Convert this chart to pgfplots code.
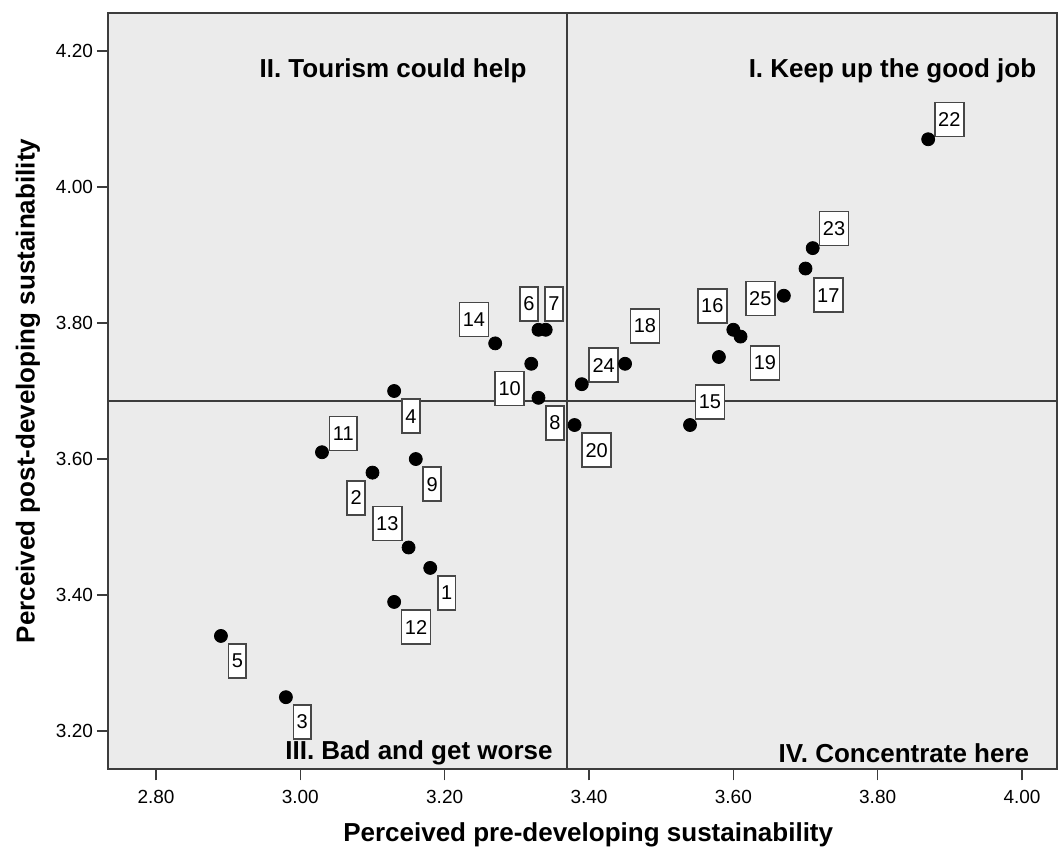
\documentclass[border=0pt]{standalone}
\usepackage{fontspec}
\setmainfont{Liberation Sans}
\usepackage{pgfplots}
\pgfplotsset{compat=1.18}
\definecolor{bg}{RGB}{235,235,235}
\definecolor{frm}{RGB}{60,60,60}
\tikzset{lbl/.style={draw=black!72, line width=0.8pt, fill=white, minimum height=17pt, inner xsep=1.7pt, inner ysep=0pt, font=\fontsize{10}{11}\selectfont},
 quad/.style={font=\fontsize{13}{15}\selectfont\bfseries}}
\begin{document}
\begin{tikzpicture}
\path[use as bounding box] (-54pt,-41.35pt) rectangle (475.5pt,384.65pt);
\begin{axis}[
 scale only axis, width=474.5pt, height=378.3pt,
 xmin=2.7335, xmax=4.0485, ymin=3.144, ymax=4.256,
 axis background/.style={fill=bg},
 axis line style={frm, line width=1.1pt},
 xtick={2.8,3.0,3.2,3.4,3.6,3.8,4.0},
 ytick={3.2,3.4,3.6,3.8,4.0,4.2},
 tick align=outside, tick pos=left, major tick length=5.5pt,
 tick style={frm, line width=0.8pt},
 /pgf/number format/assume math mode=true,
 xticklabel style={/pgf/number format/fixed, /pgf/number format/fixed zerofill, /pgf/number format/precision=2, font=\fontsize{9.5}{10}\selectfont, yshift=-1.5pt},
 yticklabel style={/pgf/number format/fixed, /pgf/number format/fixed zerofill, /pgf/number format/precision=2, font=\fontsize{9.5}{10}\selectfont, xshift=1.5pt},
 xlabel={Perceived pre-developing sustainability},
 ylabel={Perceived post-developing sustainability},
 xlabel style={font=\fontsize{13}{15}\selectfont\bfseries, at={(axis description cs:0.506,-0.0868)}, anchor=center},
 ylabel style={font=\fontsize{13}{15}\selectfont\bfseries, at={(axis description cs:-0.0843,0.5)}, anchor=center},
 clip=false,
]
\addplot[frm, line width=0.9pt] coordinates {(3.369,3.144) (3.369,4.256)};
\addplot[frm, line width=0.9pt] coordinates {(2.7335,3.6855) (4.0485,3.6855)};
\addplot[only marks, mark=*, mark size=3.25pt, black] coordinates {
 (3.18,3.44) (3.10,3.58) (2.98,3.25) (3.13,3.70) (2.89,3.34)
 (3.33,3.79) (3.34,3.79) (3.33,3.69) (3.16,3.60) (3.32,3.74)
 (3.03,3.61) (3.13,3.39) (3.15,3.47) (3.27,3.77) (3.54,3.65)
 (3.60,3.79) (3.70,3.88) (3.45,3.74) (3.61,3.78) (3.38,3.65)
 (3.58,3.75) (3.87,4.07) (3.71,3.91) (3.39,3.71) (3.67,3.84)
};
\node[lbl] at (axis cs:3.2028,3.4033) {1};
\node[lbl] at (axis cs:3.0775,3.5429) {2};
\node[lbl] at (axis cs:3.0027,3.2137) {3};
\node[lbl] at (axis cs:3.1533,3.6630) {4};
\node[lbl] at (axis cs:2.9127,3.3029) {5};
\node[lbl] at (axis cs:3.3168,3.8277) {6};
\node[lbl] at (axis cs:3.3515,3.8277) {7};
\node[lbl] at (axis cs:3.3529,3.6532) {8};
\node[lbl] at (axis cs:3.1828,3.5631) {9};
\node[lbl] at (axis cs:3.2901,3.7038) {10};
\node[lbl] at (axis cs:3.0595,3.6376) {11};
\node[lbl] at (axis cs:3.1603,3.3529) {12};
\node[lbl] at (axis cs:3.1205,3.5053) {13};
\node[lbl] at (axis cs:3.2406,3.8052) {14};
\node[lbl] at (axis cs:3.5676,3.6841) {15};
\node[lbl] at (axis cs:3.5708,3.8252) {16};
\node[lbl] at (axis cs:3.7316,3.8409) {17};
\node[lbl] at (axis cs:3.4776,3.7958) {18};
\node[lbl] at (axis cs:3.6438,3.7414) {19};
\node[lbl] at (axis cs:3.4106,3.6130) {20};
\node[lbl] at (axis cs:3.8992,4.0992) {22};
\node[lbl] at (axis cs:3.7395,3.9389) {23};
\node[lbl] at (axis cs:3.4203,3.7380) {24};
\node[lbl] at (axis cs:3.6373,3.8360) {25};
\node[quad] at (axis cs:3.1284,4.1706) {II. Tourism could help};
\node[quad] at (axis cs:3.8205,4.1706) {I. Keep up the good job};
\node[quad] at (axis cs:3.1644,3.1677) {III. Bad and get worse};
\node[quad] at (axis cs:3.8364,3.1677) {IV. Concentrate here};
\end{axis}
\end{tikzpicture}
\end{document}
